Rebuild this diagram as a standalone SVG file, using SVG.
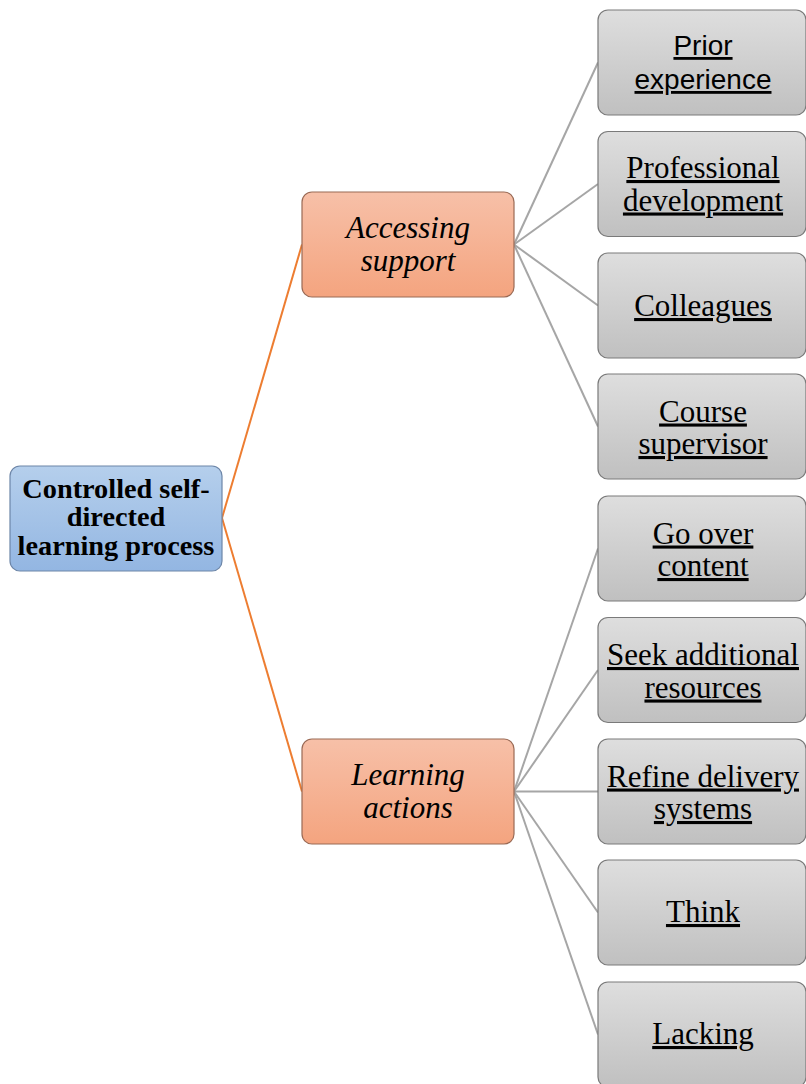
<svg xmlns="http://www.w3.org/2000/svg" width="806" height="1084" viewBox="0 0 806 1084">
<defs>
<linearGradient id="gBlue" x1="0" y1="0" x2="0" y2="1"><stop offset="0" stop-color="#b5cfec"/><stop offset="1" stop-color="#93b6e2"/></linearGradient>
<linearGradient id="gOrange" x1="0" y1="0" x2="0" y2="1"><stop offset="0" stop-color="#f7c0a8"/><stop offset="1" stop-color="#f4a47f"/></linearGradient>
<linearGradient id="gGray" x1="0" y1="0" x2="0" y2="1"><stop offset="0" stop-color="#dedede"/><stop offset="1" stop-color="#c0c0c0"/></linearGradient>
</defs>
<style>
.box{stroke-width:1.2}
.root{fill:url(#gBlue);stroke:#6d86a8}
.mid{fill:url(#gOrange);stroke:#9a6a55}
.leaf{fill:url(#gGray);stroke:#7a7a7a}
.t{font-family:'Liberation Serif','DejaVu Serif',serif;fill:#000;text-anchor:middle}
.rt{font-size:28.3px;font-weight:bold}
.mt{font-size:31px;font-style:italic}
.lt{font-size:31px;text-decoration:underline}
.st{font-family:'Liberation Sans','DejaVu Sans',sans-serif;font-size:28px;text-decoration:underline;text-anchor:middle}
.co{stroke:#ed7d31;stroke-width:2;fill:none}
.cg{stroke:#a6a6a6;stroke-width:2;fill:none}
</style>
<g id="connectors">
<line class="co" x1="222" y1="518" x2="302" y2="244.5"/>
<line class="co" x1="222" y1="518" x2="302" y2="791.5"/>
<line class="cg" x1="514" y1="244.5" x2="598" y2="62.5"/>
<line class="cg" x1="514" y1="244.5" x2="598" y2="184"/>
<line class="cg" x1="514" y1="244.5" x2="598" y2="305.5"/>
<line class="cg" x1="514" y1="244.5" x2="598" y2="426.5"/>
<line class="cg" x1="514" y1="791.5" x2="598" y2="548.5"/>
<line class="cg" x1="514" y1="791.5" x2="598" y2="670"/>
<line class="cg" x1="514" y1="791.5" x2="598" y2="791.5"/>
<line class="cg" x1="514" y1="791.5" x2="598" y2="912.5"/>
<line class="cg" x1="514" y1="791.5" x2="598" y2="1034.5"/>
</g>
<g id="root">
<rect class="box root" x="10" y="466" width="212" height="105" rx="10"/>
<text class="t rt" x="116" y="498">Controlled self-</text>
<text class="t rt" x="116" y="526">directed</text>
<text class="t rt" x="116" y="555">learning process</text>
</g>
<g id="accessing">
<rect class="box mid" x="302" y="192" width="212" height="105" rx="10"/>
<text class="t mt" x="408" y="238">Accessing</text>
<text class="t mt" x="408" y="271">support</text>
</g>
<g id="learning">
<rect class="box mid" x="302" y="739" width="212" height="105" rx="10"/>
<text class="t mt" x="408" y="785">Learning</text>
<text class="t mt" x="408" y="818">actions</text>
</g>
<g id="prior">
<rect class="box leaf" x="598" y="10" width="208" height="105" rx="10"/>
<text class="st" x="703" y="55">Prior</text>
<text class="st" x="703" y="89">experience</text>
</g>
<g id="professional">
<rect class="box leaf" x="598" y="131.5" width="208" height="105" rx="10"/>
<text class="t lt" x="703" y="178">Professional</text>
<text class="t lt" x="703" y="210.5">development</text>
</g>
<g id="colleagues">
<rect class="box leaf" x="598" y="253" width="208" height="105" rx="10"/>
<text class="t lt" x="703" y="316">Colleagues</text>
</g>
<g id="course">
<rect class="box leaf" x="598" y="374" width="208" height="105" rx="10"/>
<text class="t lt" x="703" y="421.5">Course</text>
<text class="t lt" x="703" y="454">supervisor</text>
</g>
<g id="goover">
<rect class="box leaf" x="598" y="496" width="208" height="105" rx="10"/>
<text class="t lt" x="703" y="543.5">Go over</text>
<text class="t lt" x="703" y="576">content</text>
</g>
<g id="seek">
<rect class="box leaf" x="598" y="617.5" width="208" height="105" rx="10"/>
<text class="t lt" x="703" y="665">Seek additional</text>
<text class="t lt" x="703" y="697.5">resources</text>
</g>
<g id="refine">
<rect class="box leaf" x="598" y="739" width="208" height="105" rx="10"/>
<text class="t lt" x="703" y="786.5">Refine delivery</text>
<text class="t lt" x="703" y="819">systems</text>
</g>
<g id="think">
<rect class="box leaf" x="598" y="860" width="208" height="105" rx="10"/>
<text class="t lt" x="703" y="922">Think</text>
</g>
<g id="lacking">
<rect class="box leaf" x="598" y="982" width="208" height="105" rx="10"/>
<text class="t lt" x="703" y="1044">Lacking</text>
</g>
</svg>
